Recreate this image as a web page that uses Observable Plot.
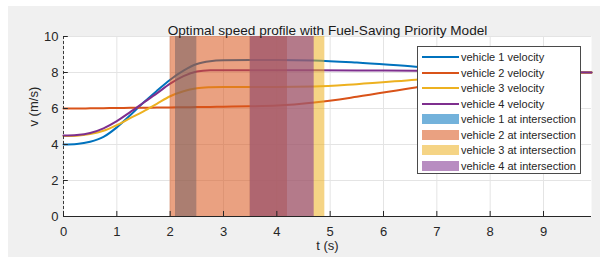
<!DOCTYPE html>
<html>
<head>
<meta charset="utf-8">
<script src="https://cdn.jsdelivr.net/npm/d3@7"></script>
<script src="https://cdn.jsdelivr.net/npm/@observablehq/plot@0.6"></script>
<style>
  body { margin: 0; background: white; }
  #wrap { position: relative; width: 600px; height: 257px; background: white; overflow: hidden; font-family: "Liberation Sans", Arial, Helvetica, sans-serif; }
  #bg { position: absolute; left: 8px; top: 6px; right: 0; bottom: 0; background: #f0f0f0; }
  #chart { position: absolute; left: 0; top: 0; }
  #legend { position: absolute; left: 417px; top: 46px; width: 164px; height: 128px; background: white; border: 1px solid #4a4a4a; box-sizing: border-box; }
  .row { position: absolute; left: 0; height: 14px; width: 100%; }
  .row span { position: absolute; left: 43px; top: 0; font-size: 11px; line-height: 14px; color: #262626; white-space: nowrap; }
  .sw { position: absolute; left: 4px; width: 37px; }
</style>
</head>
<body>
<div id="wrap">
  <div id="bg"></div>
  <div id="chart"></div>
  <div id="legend"></div>
</div>
<script>
// ---- data ----
const titleText = "Optimal speed profile with Fuel-Saving Priority Model";
const xLabel = "t (s)";
const yLabel = "v (m/s)";
const xTicks = [0, 1, 2, 3, 4, 5, 6, 7, 8, 9];
const yTicks = [0, 2, 4, 6, 8, 10];

const vehicles = ["vehicle 1", "vehicle 2", "vehicle 3", "vehicle 4"];
const colors = ["#0072BD", "#D95319", "#EDB120", "#7E2F8E"];

const time = [0, 0.25, 0.5, 0.75, 1.0, 1.25, 1.5, 1.75, 2.0, 2.25, 2.5, 2.75, 3.0, 3.5, 4.0, 4.7, 5.5, 6.6, 7.5, 8.5, 9.3, 9.9];
const v1 = [4.0, 4.03, 4.15, 4.42, 4.95, 5.62, 6.33, 6.98, 7.6, 8.1, 8.47, 8.63, 8.68, 8.7, 8.7, 8.67, 8.55, 8.32, 8.16, 8.05, 8.01, 8.0];
const v2 = [6.0, 6.0, 6.01, 6.02, 6.03, 6.035, 6.04, 6.05, 6.06, 6.07, 6.08, 6.09, 6.1, 6.12, 6.16, 6.33, 6.65, 7.17, 7.55, 7.85, 7.97, 8.0];
const v3 = [4.47, 4.49, 4.58, 4.76, 5.08, 5.46, 5.84, 6.26, 6.68, 6.96, 7.12, 7.18, 7.2, 7.2, 7.2, 7.22, 7.35, 7.6, 7.8, 7.95, 8.0, 8.0];
const v4 = [4.5, 4.53, 4.64, 4.9, 5.3, 5.8, 6.32, 6.84, 7.38, 7.8, 8.05, 8.12, 8.13, 8.13, 8.13, 8.12, 8.11, 8.1, 8.07, 8.04, 8.02, 8.0];

// time spent at the intersection per vehicle (s)
const enterTime = [2.1, 2.0, 3.5, 3.5];
const exitTime  = [2.5, 4.2, 4.9, 4.7];

// ---- build tables ----
const series = [v1, v2, v3, v4];
const lineData = [];
series.forEach((vals, i) => vals.forEach((v, j) => lineData.push({t: time[j], v, vehicle: vehicles[i], color: colors[i]})));
const bandData = vehicles.map((name, i) => ({vehicle: name, start: enterTime[i], end: exitTime[i], color: colors[i]}));

const chart = Plot.plot({
  width: 600,
  height: 257,
  marginLeft: 63,
  marginRight: 9,
  marginTop: 36,
  marginBottom: 41,
  style: {background: "transparent", fontFamily: "'Liberation Sans', Arial, Helvetica, sans-serif", fontSize: "13px", color: "#262626"},
  x: {domain: [0, 9.9], ticks: xTicks, tickSize: 0, tickPadding: 10, label: null, tickFormat: d => String(d)},
  y: {domain: [0, 10], ticks: yTicks, tickSize: 0, tickPadding: 5, label: null, tickFormat: d => String(d)},
  color: {type: "identity"},
  marks: [
    Plot.frame({fill: "white", stroke: null}),
    Plot.ruleX(xTicks, {stroke: "#e4e4e4"}),
    Plot.ruleY(yTicks, {stroke: "#e4e4e4"}),
    ...vehicles.map(name => Plot.line(lineData.filter(d => d.vehicle === name), {x: "t", y: "v", stroke: "color", strokeWidth: 2, curve: "monotone-x"})),
    ...bandData.map(b => Plot.rect([b], {x1: "start", x2: "end", y1: 0, y2: 10, fill: "color", fillOpacity: 0.55})),
    Plot.ruleY([0], {stroke: "#262626"}),
    Plot.ruleX([0], {stroke: "#3a3a3a", strokeDasharray: "3,2"}),
    Plot.ruleX(xTicks, {y1: 0, y2: 0.28, stroke: "#262626"}),
    Plot.ruleY(yTicks, {x1: 0, x2: 0.09, stroke: "#262626"}),
    Plot.text([titleText], {text: d => d, frameAnchor: "top", dy: -11, fontSize: 13.6, fill: "#1a1a1a"}),
    Plot.text([xLabel], {text: d => d, frameAnchor: "bottom", dy: 33, fontSize: 13, fill: "#262626"}),
    Plot.text([yLabel], {text: d => d, frameAnchor: "left", dx: -30, rotate: -90, fontSize: 13, fill: "#262626"})
  ]
});
document.getElementById("chart").appendChild(chart);

// ---- legend ----
const legend = document.getElementById("legend");
const rowTops = [3, 18.5, 34, 49.5, 65, 80.5, 96, 111.5];
vehicles.forEach((name, i) => {
  const row = document.createElement("div");
  row.className = "row";
  row.style.top = rowTops[i] + "px";
  const sw = document.createElement("div");
  sw.className = "sw";
  sw.style.top = "6px";
  sw.style.height = "2px";
  sw.style.background = colors[i];
  row.appendChild(sw);
  const s = document.createElement("span");
  s.textContent = name + " velocity";
  row.appendChild(s);
  legend.appendChild(row);
});
vehicles.forEach((name, i) => {
  const row = document.createElement("div");
  row.className = "row";
  row.style.top = rowTops[i + 4] + "px";
  const sw = document.createElement("div");
  sw.className = "sw";
  sw.style.top = "2px";
  sw.style.height = "10px";
  sw.style.background = colors[i];
  sw.style.opacity = 0.55;
  row.appendChild(sw);
  const s = document.createElement("span");
  s.textContent = name + " at intersection";
  row.appendChild(s);
  legend.appendChild(row);
});
</script>
</body>
</html>
